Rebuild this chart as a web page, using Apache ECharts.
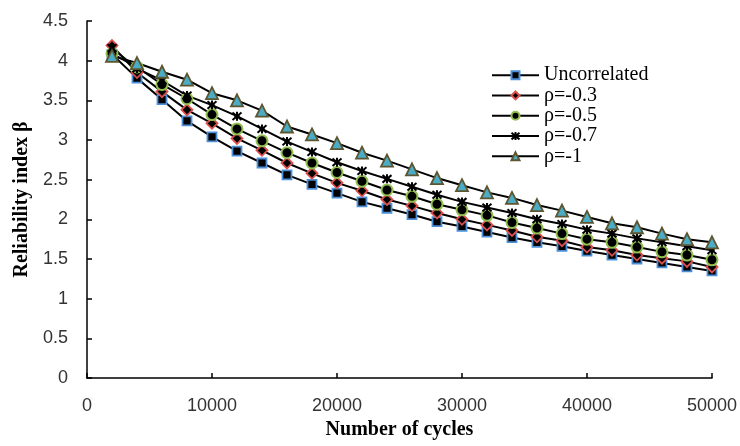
<!DOCTYPE html>
<html>
<head>
<meta charset="utf-8">
<script src="https://cdn.jsdelivr.net/npm/echarts@6/dist/echarts.min.js"></script>
<style>html,body{margin:0;padding:0;background:#fff;}#c{width:740px;height:446px;}</style>
</head>
<body>
<div id="c"></div>
<script>
const cycles = [2000,4000,6000,8000,10000,12000,14000,16000,18000,20000,22000,24000,26000,28000,30000,32000,34000,36000,38000,40000,42000,44000,46000,48000,50000];
const uncorrelated = [4.08,3.78,3.51,3.24,3.04,2.86,2.71,2.56,2.44,2.33,2.22,2.14,2.06,1.97,1.91,1.84,1.77,1.71,1.66,1.60,1.55,1.50,1.45,1.40,1.35];
const rho03 = [4.19,3.85,3.61,3.38,3.21,3.02,2.87,2.71,2.58,2.46,2.36,2.25,2.17,2.08,2.00,1.93,1.86,1.78,1.73,1.65,1.61,1.55,1.51,1.47,1.40];
const rho05 = [4.09,3.92,3.70,3.52,3.32,3.14,2.99,2.84,2.71,2.59,2.48,2.37,2.29,2.19,2.12,2.05,1.96,1.89,1.82,1.75,1.71,1.65,1.59,1.55,1.49];
const rho07 = [4.16,3.90,3.75,3.56,3.44,3.30,3.14,2.98,2.85,2.72,2.61,2.51,2.41,2.31,2.22,2.15,2.08,2.00,1.94,1.87,1.82,1.76,1.71,1.66,1.61];
const rho1 = [4.06,3.97,3.86,3.76,3.59,3.50,3.37,3.17,3.07,2.96,2.84,2.74,2.63,2.52,2.43,2.34,2.27,2.18,2.11,2.03,1.95,1.90,1.82,1.75,1.71];
const seriesNames = ['Uncorrelated','ρ=-0.3','ρ=-0.5','ρ=-0.7','ρ=-1'];

const pair = arr => cycles.map((c,i)=>[c,arr[i]]);
const star = 'path://M0,0L10,10M10,0L0,10M5,-1L5,11M2,5L8,5';
const styles = [
  {symbol:'rect', size:9, fill:'#000', border:'#4a8fd8', bw:1.8},
  {symbol:'diamond', size:11, fill:'#000', border:'#dc4f4c', bw:1.8},
  {symbol:'circle', size:11, fill:'#000', border:'#92c050', bw:2},
  {symbol:star, size:9, fill:'#000', border:'#000', bw:2},
  {symbol:'triangle', size:12, fill:'#4bacc6', border:'#5c5530', bw:1.8}
];
const dataArr = [uncorrelated, rho03, rho05, rho07, rho1];

const chart = echarts.init(document.getElementById('c'), null, {renderer:'canvas'});
chart.setOption({
  animation:false,
  backgroundColor:'#fff',
  grid:{left:87, right:28, top:21, bottom:68, containLabel:false},
  legend:{
    left:486, top:60, orient:'vertical', itemGap:0, itemWidth:47, itemHeight:10,
    textStyle:{fontFamily:'Liberation Serif', fontSize:20, color:'#000', lineHeight:20.3},
    data:seriesNames
  },
  xAxis:{
    type:'value', min:0, max:50000, interval:10000,
    name:'Number of cycles', nameLocation:'middle', nameGap:42,
    nameTextStyle:{fontFamily:'Liberation Serif', fontWeight:'bold', fontSize:20, color:'#000'},
    axisLine:{show:true, lineStyle:{color:'#000', width:1.5}},
    axisTick:{show:true, inside:true, length:5, lineStyle:{color:'#000', width:1.5}},
    axisLabel:{fontFamily:'Liberation Sans', fontSize:18, color:'#333', margin:19, formatter:v=>String(v)},
    splitLine:{show:false}
  },
  yAxis:{
    type:'value', min:0, max:4.5, interval:0.5,
    name:'Reliability index β', nameLocation:'middle', nameGap:49,
    nameTextStyle:{fontFamily:'Liberation Serif', fontWeight:'bold', fontSize:20, color:'#000'},
    axisLine:{show:true, lineStyle:{color:'#000', width:1.5}},
    axisTick:{show:true, inside:true, length:5, lineStyle:{color:'#000', width:1.5}},
    axisLabel:{fontFamily:'Liberation Sans', fontSize:18, color:'#333', margin:19},
    splitLine:{show:false}
  },
  series: seriesNames.map((n,i)=>({
    name:n, type:'line', data:pair(dataArr[i]),
    symbol:styles[i].symbol, symbolSize:styles[i].size, showAllSymbol:true,
    lineStyle:{color:'#000', width:2},
    itemStyle:{color:styles[i].fill, borderColor:styles[i].border, borderWidth:styles[i].bw}
  }))
});
</script>
</body>
</html>
